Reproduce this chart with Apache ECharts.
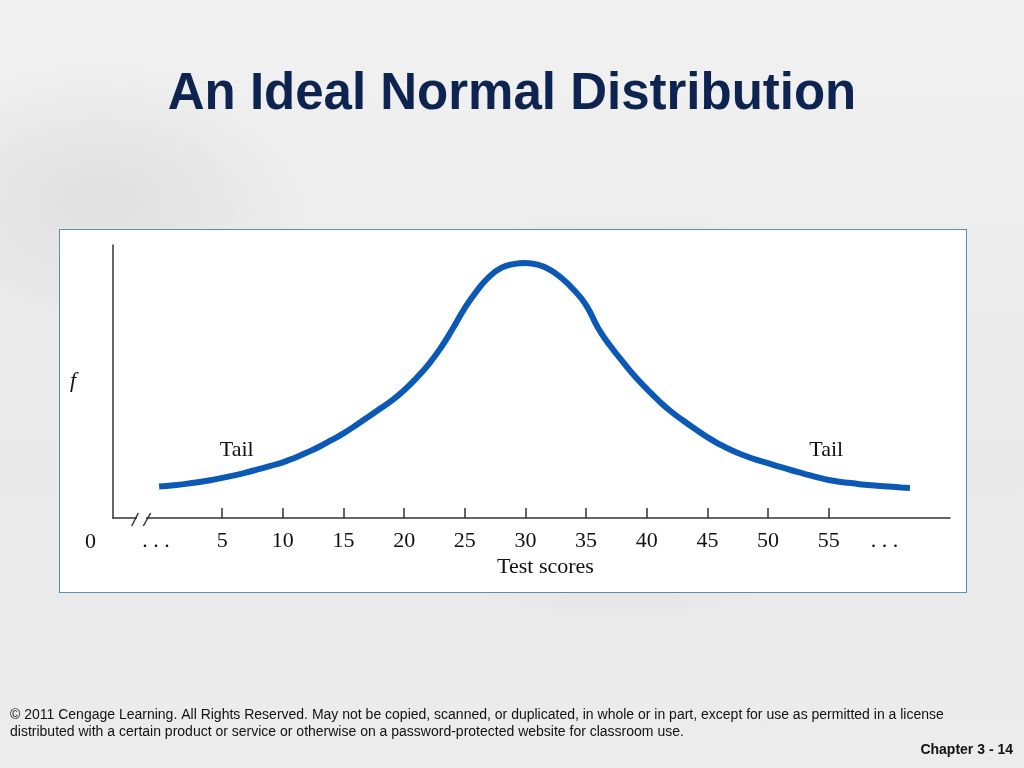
<!DOCTYPE html>
<html>
<head>
<meta charset="utf-8">
<script src="https://cdn.jsdelivr.net/npm/echarts@6/dist/echarts.min.js"></script>
<style>
  html, body { margin:0; padding:0; width:1024px; height:768px; overflow:hidden; }
  body {
    background:
      radial-gradient(ellipse 420px 300px at 620px 420px, rgba(200,200,200,0.55), rgba(230,230,230,0) 70%),
      radial-gradient(ellipse 300px 200px at 100px 200px, rgba(215,215,215,0.6), rgba(230,230,230,0) 70%),
      linear-gradient(180deg, #f1f1f1 0%, #e9e9e9 60%, #ececec 100%);
  }
  #panel { position:absolute; left:59px; top:229px; width:906px; height:362px; background:#fff; border:1px solid #5f8cad; }
  #chart { position:absolute; left:0; top:0; width:1024px; height:768px; }
</style>
</head>
<body>
<div id="panel"></div>
<div id="chart"></div>
<script>
// Data (test score, frequency height)
const scores = [-0.2, 1, 2, 3, 4, 5, 6, 7, 8, 9, 10, 11, 12, 13, 14, 15, 16, 17, 18, 19, 20,
                21, 22, 23, 24, 25, 26, 27, 28, 29, 30, 31, 32, 33, 34, 35, 36, 37, 38, 39, 40,
                41, 42, 43, 44, 45, 46, 47, 48, 49, 50, 51, 52, 53, 54, 55, 56, 57, 58, 59, 60, 61, 61.7];
const freq   = [11.5, 12.0, 12.5, 13.1, 13.8, 14.7, 15.6, 16.7, 17.9, 19.1, 20.4, 22.1, 24.0, 26.1, 28.5, 31.0, 33.9, 36.9, 40.0, 43.1, 46.8,
                51.2, 56.2, 62.2, 69.3, 76.9, 83.2, 88.3, 91.6, 93.0, 93.4, 92.8, 91.0, 87.8, 83.5, 78.0, 69.5, 63.0, 57.4, 52.0, 47.3,
                42.9, 39.0, 35.7, 32.6, 29.6, 27.0, 24.8, 23.0, 21.4, 20.1, 18.7, 17.4, 16.2, 15.0, 13.9, 13.2, 12.7, 12.2, 11.8, 11.5, 11.2, 11.0];
const tickValues  = [5, 10, 15, 20, 25, 30, 35, 40, 45, 50, 55];
const labelValues = [-0.45, 5, 10, 15, 20, 25, 30, 35, 40, 45, 50, 55, 59.6];
const tails = [[6.2, 25.0], [54.8, 25.0]];

const serif = '"Liberation Serif", "DejaVu Serif", serif';
const chart = echarts.init(document.getElementById('chart'));
chart.setOption({
  backgroundColor: 'transparent',
  animation: false,
  title: [
    { text: 'An Ideal Normal Distribution', left: 'center', top: 64,
      textStyle: { fontFamily: '"Liberation Sans", Arial, sans-serif', fontWeight: 'bold', fontSize: 51, color: '#0d2450' } },
    { text: '© 2011 Cengage Learning. All Rights Reserved. May not be copied, scanned, or duplicated, in whole or in part, except for use as permitted in a license\ndistributed with a certain product or service or otherwise on a password-protected website for classroom use.',
      left: 5, top: 702,
      textStyle: { fontFamily: '"Liberation Sans Narrow", "Liberation Sans", Arial, sans-serif', fontWeight: 'normal', fontSize: 14, lineHeight: 17, color: '#111' } },
    { text: 'Chapter 3 - 14', right: 6, top: 738,
      textStyle: { fontFamily: '"Liberation Sans Narrow", "Liberation Sans", Arial, sans-serif', fontWeight: 'bold', fontSize: 14, color: '#111' } }
  ],
  grid: { left: 113, right: 74, top: 245, bottom: 250, containLabel: false },
  xAxis: {
    type: 'value', min: -4, max: 65,
    name: 'Test scores', nameLocation: 'middle', nameGap: 38,
    nameTextStyle: { fontFamily: serif, fontSize: 22, color: '#111', padding: [0, 0, 0, 28] },
    axisLine: { show: true, onZero: false, lineStyle: { color: '#333', width: 1.5 } },
    axisTick: { show: true, inside: true, length: 10, customValues: tickValues, lineStyle: { color: '#333', width: 1.5 } },
    axisLabel: { show: true, customValues: labelValues, margin: 12, fontFamily: serif, fontSize: 22, color: '#111',
      formatter: v => (v < 0 || v > 57) ? '. . .' : String(v) },
    splitLine: { show: false }
  },
  yAxis: {
    type: 'value', min: 0, max: 100,
    name: 'f', nameLocation: 'middle', nameRotate: 0, nameGap: 37,
    nameTextStyle: { fontFamily: serif, fontStyle: 'italic', fontSize: 22, color: '#111' },
    axisLine: { show: true, onZero: false, lineStyle: { color: '#333', width: 1.5 } },
    axisTick: { show: false },
    axisLabel: { show: true, customValues: [0], margin: 17, verticalAlign: 'top', padding: [13, 0, 0, 0],
      fontFamily: serif, fontSize: 22, color: '#111' },
    splitLine: { show: false }
  },
  graphic: [
    { type: 'rect', shape: { x: 137, y: 514, width: 9, height: 8 }, style: { fill: '#fff' }, z: 100 },
    { type: 'line', shape: { x1: 131.7, y1: 526, x2: 138.3, y2: 513 }, style: { stroke: '#333', lineWidth: 1.5 }, z: 101 },
    { type: 'line', shape: { x1: 143.3, y1: 526, x2: 150.7, y2: 513 }, style: { stroke: '#333', lineWidth: 1.5 }, z: 101 }
  ],
  series: [{
    type: 'line',
    data: scores.map((s, i) => [s, freq[i]]),
    smooth: true,
    showSymbol: false,
    lineStyle: { color: '#0b59b5', width: 6, cap: 'butt' },
    markPoint: {
      symbol: 'circle', symbolSize: 0,
      label: { show: true, formatter: 'Tail', fontFamily: serif, fontSize: 22, color: '#111', position: 'inside' },
      data: tails.map(t => ({ coord: t }))
    }
  }]
});
</script>
</body>
</html>
